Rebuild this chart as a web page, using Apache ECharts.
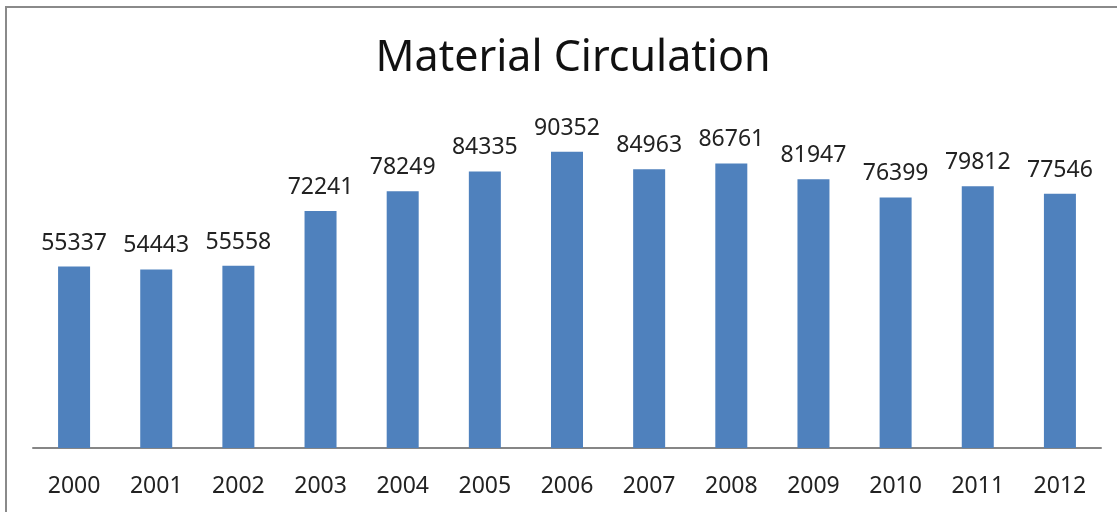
<!DOCTYPE html>
<html>
<head>
<meta charset="utf-8">
<script src="https://cdn.jsdelivr.net/npm/echarts@6/dist/echarts.min.js"></script>
<style>
  html, body { margin: 0; padding: 0; background: #fff; }
  #chart { width: 1117px; height: 512px; }
</style>
</head>
<body>
<div id="chart"></div>
<script>
// chart values
const years = ['2000', '2001', '2002', '2003', '2004', '2005', '2006', '2007', '2008', '2009', '2010', '2011', '2012']
const circulation = [55337, 54443, 55558, 72241, 78249, 84335, 90352, 84963, 86761, 81947, 76399, 79812, 77546]

const chart = echarts.init(document.getElementById('chart'))

chart.setOption({
    animation: false,
    textStyle: { fontFamily: 'Noto Sans' },
    title: {
        text: 'Material Circulation',
        left: 568,
        textAlign: 'center',
        top: 32,
        textStyle: { fontSize: 43, fontWeight: 'normal', color: '#111', fontFamily: 'Noto Sans' },
    },
    // outer frame of the chart area
    graphic: [{
        type: 'rect',
        shape: { x: 6, y: 7, width: 1300, height: 700 },
        style: { fill: 'none', stroke: '#8a8a8a', lineWidth: 2 },
        silent: true,
    }],
    grid: { left: 33, right: 16, top: 120, bottom: 64 },
    xAxis: {
        type: 'category',
        data: years,
        axisLine: { lineStyle: { color: '#868686', width: 2 } },
        axisTick: { show: false },
        axisLabel: { fontSize: 23, color: '#222', margin: 27 },
    },
    yAxis: {
        type: 'value',
        min: 0,
        max: 100000,
        show: false,
        splitLine: { show: false },
    },
    series: [{
        type: 'bar',
        data: circulation,
        barWidth: 32,
        itemStyle: { color: '#4F81BD' },
        label: {
            show: true,
            position: 'top',
            distance: 12,
            fontSize: 23,
            color: '#222',
        },
    }],
})
</script>
</body>
</html>
